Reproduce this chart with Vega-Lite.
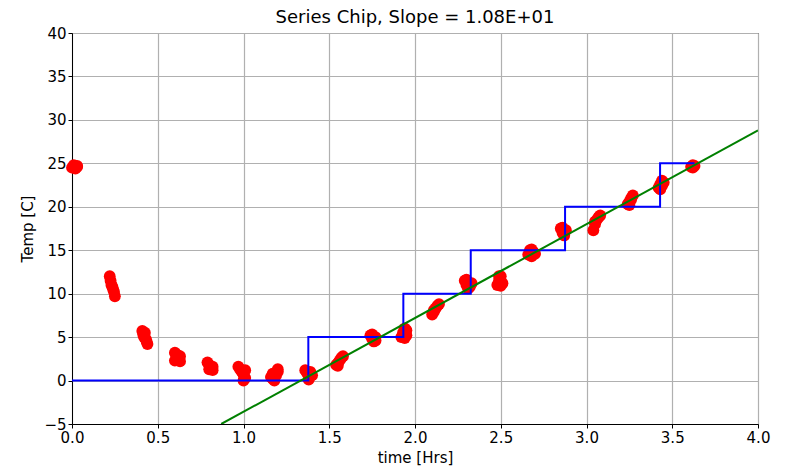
{
  "$schema": "https://vega.github.io/schema/vega-lite/v6.json",
  "autosize": "none",
  "width": 686,
  "height": 391,
  "padding": {"left": 72, "top": 33, "right": 30, "bottom": 50},
  "background": "white",
  "title": {"text": "Series Chip, Slope = 1.08E+01", "font": "DejaVu Sans", "fontSize": 18, "fontWeight": "normal", "color": "black", "offset": -1},
  "config": {
    "view": {"stroke": "black", "strokeWidth": 1},
    "axis": {
      "labelFont": "DejaVu Sans", "labelFontSize": 15, "labelColor": "black",
      "titleFont": "DejaVu Sans", "titleFontSize": 15, "titleFontWeight": "normal", "titleColor": "black",
      "domainColor": "black", "tickColor": "black", "tickSize": 4,
      "gridColor": "#b0b0b0", "gridWidth": 1.2,
      "labelOverlap": false, "labelFlush": false
    }
  },
  "datasets": {
    "temps": [
      {"t": 0.0, "temp": 24.5}, {"t": 0.01, "temp": 24.8}, {"t": 0.02, "temp": 24.4}, {"t": 0.03, "temp": 24.6}, {"t": 0.03, "temp": 24.7},
      {"t": 0.22, "temp": 12.0}, {"t": 0.225, "temp": 11.5}, {"t": 0.23, "temp": 11.0}, {"t": 0.235, "temp": 10.8}, {"t": 0.24, "temp": 10.5}, {"t": 0.245, "temp": 10.2}, {"t": 0.25, "temp": 9.7},
      {"t": 0.41, "temp": 5.7}, {"t": 0.415, "temp": 5.3}, {"t": 0.42, "temp": 5.0}, {"t": 0.43, "temp": 4.8}, {"t": 0.435, "temp": 4.5}, {"t": 0.44, "temp": 4.2}, {"t": 0.425, "temp": 5.5},
      {"t": 0.60, "temp": 3.2}, {"t": 0.61, "temp": 2.8}, {"t": 0.62, "temp": 2.5}, {"t": 0.63, "temp": 2.2}, {"t": 0.61, "temp": 3.0}, {"t": 0.63, "temp": 2.8}, {"t": 0.60, "temp": 2.3},
      {"t": 0.79, "temp": 2.1}, {"t": 0.80, "temp": 1.8}, {"t": 0.81, "temp": 1.5}, {"t": 0.82, "temp": 1.2}, {"t": 0.80, "temp": 1.3}, {"t": 0.82, "temp": 1.6},
      {"t": 0.97, "temp": 1.6}, {"t": 0.98, "temp": 1.3}, {"t": 0.99, "temp": 1.0}, {"t": 1.0, "temp": 0.7}, {"t": 1.01, "temp": 0.3}, {"t": 1.0, "temp": 0.0}, {"t": 1.01, "temp": 1.2},
      {"t": 1.16, "temp": 0.4}, {"t": 1.17, "temp": 0.2}, {"t": 1.18, "temp": 0.0}, {"t": 1.19, "temp": 0.6}, {"t": 1.20, "temp": 1.0}, {"t": 1.20, "temp": 1.3}, {"t": 1.17, "temp": 0.8},
      {"t": 1.36, "temp": 1.2}, {"t": 1.37, "temp": 0.9}, {"t": 1.38, "temp": 0.5}, {"t": 1.38, "temp": 0.1}, {"t": 1.39, "temp": 1.0}, {"t": 1.40, "temp": 0.6},
      {"t": 1.54, "temp": 1.8}, {"t": 1.55, "temp": 2.0}, {"t": 1.56, "temp": 2.3}, {"t": 1.57, "temp": 2.6}, {"t": 1.58, "temp": 2.8}, {"t": 1.55, "temp": 1.7},
      {"t": 1.74, "temp": 5.2}, {"t": 1.75, "temp": 4.8}, {"t": 1.76, "temp": 4.5}, {"t": 1.77, "temp": 5.0}, {"t": 1.75, "temp": 5.3}, {"t": 1.77, "temp": 4.6},
      {"t": 1.92, "temp": 5.0}, {"t": 1.93, "temp": 5.5}, {"t": 1.94, "temp": 6.0}, {"t": 1.95, "temp": 5.2}, {"t": 1.94, "temp": 4.9}, {"t": 1.95, "temp": 5.8},
      {"t": 2.10, "temp": 7.6}, {"t": 2.11, "temp": 7.9}, {"t": 2.12, "temp": 8.3}, {"t": 2.13, "temp": 8.6}, {"t": 2.14, "temp": 8.8}, {"t": 2.11, "temp": 8.1},
      {"t": 2.29, "temp": 11.5}, {"t": 2.30, "temp": 11.0}, {"t": 2.31, "temp": 10.6}, {"t": 2.32, "temp": 10.8}, {"t": 2.30, "temp": 11.6}, {"t": 2.33, "temp": 11.2},
      {"t": 2.48, "temp": 11.0}, {"t": 2.49, "temp": 11.5}, {"t": 2.50, "temp": 12.0}, {"t": 2.51, "temp": 11.2}, {"t": 2.49, "temp": 12.0}, {"t": 2.50, "temp": 10.9},
      {"t": 2.66, "temp": 14.5}, {"t": 2.67, "temp": 15.0}, {"t": 2.68, "temp": 14.3}, {"t": 2.69, "temp": 14.8}, {"t": 2.70, "temp": 14.6}, {"t": 2.68, "temp": 15.1},
      {"t": 2.85, "temp": 17.5}, {"t": 2.86, "temp": 17.0}, {"t": 2.87, "temp": 16.7}, {"t": 2.88, "temp": 17.3}, {"t": 2.86, "temp": 17.6}, {"t": 2.87, "temp": 17.2},
      {"t": 3.04, "temp": 17.3}, {"t": 3.05, "temp": 18.0}, {"t": 3.06, "temp": 18.5}, {"t": 3.07, "temp": 18.8}, {"t": 3.08, "temp": 19.0}, {"t": 3.05, "temp": 18.3},
      {"t": 3.24, "temp": 20.3}, {"t": 3.25, "temp": 20.6}, {"t": 3.26, "temp": 21.0}, {"t": 3.27, "temp": 21.3}, {"t": 3.25, "temp": 20.2}, {"t": 3.26, "temp": 20.8},
      {"t": 3.42, "temp": 22.2}, {"t": 3.43, "temp": 22.6}, {"t": 3.44, "temp": 23.0}, {"t": 3.45, "temp": 22.8}, {"t": 3.43, "temp": 22.0}, {"t": 3.44, "temp": 22.4},
      {"t": 3.61, "temp": 24.6}, {"t": 3.62, "temp": 24.8}, {"t": 3.63, "temp": 24.7}, {"t": 3.62, "temp": 24.5}
    ],
    "setpoint": [
      {"t": 0.0, "temp": 0}, {"t": 1.378, "temp": 5}, {"t": 1.932, "temp": 10}, {"t": 2.325, "temp": 15}, {"t": 2.875, "temp": 20}, {"t": 3.429, "temp": 25}, {"t": 3.63, "temp": 25}
    ],
    "fit": [
      {"t": 0.87, "temp": -5.0}, {"t": 4.0, "temp": 28.8}
    ]
  },
  "encoding": {
    "x": {"field": "t", "type": "quantitative", "scale": {"domain": [0, 4], "nice": false}, "axis": {"title": "time [Hrs]", "values": [0, 0.5, 1, 1.5, 2, 2.5, 3, 3.5, 4], "format": ".1f", "titlePadding": 5}},
    "y": {"field": "temp", "type": "quantitative", "scale": {"domain": [-5, 40], "nice": false}, "axis": {"title": "Temp [C]", "values": [-5, 0, 5, 10, 15, 20, 25, 30, 35, 40], "titlePadding": 8}}
  },
  "layer": [
    {"data": {"name": "temps"}, "mark": {"type": "point", "filled": true, "color": "#ff0000", "opacity": 1, "size": 140}},
    {"data": {"name": "setpoint"}, "mark": {"type": "line", "interpolate": "step-after", "color": "#0000ff", "strokeWidth": 2}},
    {"data": {"name": "fit"}, "mark": {"type": "line", "color": "#008000", "strokeWidth": 2, "clip": true}}
  ]
}
